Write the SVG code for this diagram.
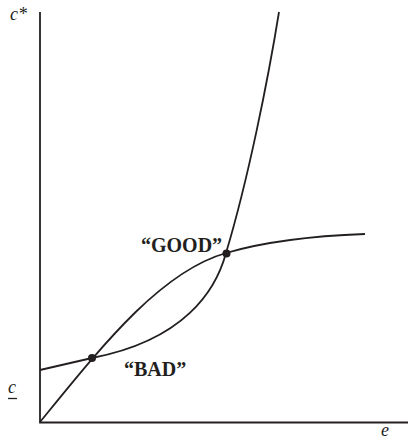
<svg xmlns="http://www.w3.org/2000/svg" width="408" height="440" viewBox="0 0 408 440">
<style>
.ax{stroke:#231f20;stroke-width:1.8;fill:none}
.cv{stroke:#231f20;stroke-width:1.8;fill:none}
.dot{fill:#231f20}
.it{font-family:"Liberation Serif",serif;font-style:italic;font-size:18px;fill:#231f20}
.lb{font-family:"Liberation Serif",serif;font-weight:bold;font-size:20px;fill:#231f20}
</style>
<g id="axes">
<path class="ax" d="M40,12 V422.5 H408"/>
</g>
<g id="connectors">
<path id="concave" class="cv" d="M40,422 C102,346 160,272 226,253 C260,243 310,236 365,234"/>
<path id="convex" class="cv" d="M40,370 C57,366 75,362 92,358 C185,340 216,290 226,253 C248,180 268,80 279,12"/>
</g>
<g id="bad">
<circle class="dot" cx="92" cy="358" r="4"/>
<text class="lb" x="124" y="376">“BAD”</text>
</g>
<g id="good">
<circle class="dot" cx="226.5" cy="253.5" r="4"/>
<text class="lb" x="141" y="252">“GOOD”</text>
</g>
<g id="labels">
<text class="it" x="10" y="20">c*</text>
<text class="it" x="8" y="393">c</text>
<line x1="8" y1="398.5" x2="17" y2="398.5" stroke="#231f20" stroke-width="1.3"/>
<text class="it" x="381" y="436">e</text>
</g>
</svg>
